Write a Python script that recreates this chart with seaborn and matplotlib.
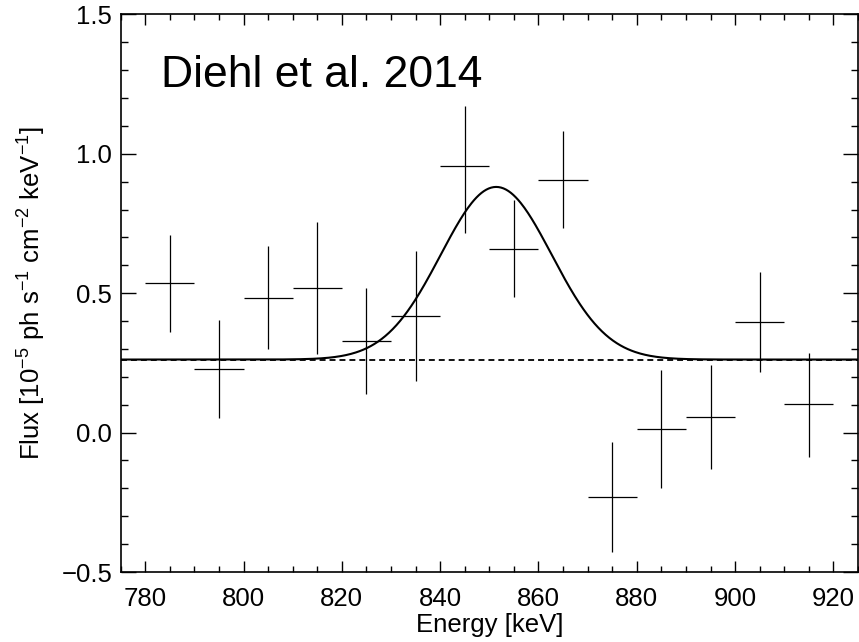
import numpy as np
import pandas as pd
import matplotlib
matplotlib.use("Agg")
import matplotlib.pyplot as plt
import seaborn as sns
from matplotlib.ticker import MultipleLocator

# ---- data ----
energy = [785, 795, 805, 815, 825, 835, 845, 855, 865, 875, 885, 895, 905, 915]
flux = [0.535, 0.229, 0.483, 0.518, 0.330, 0.419, 0.957, 0.660, 0.907,
        -0.232, 0.012, 0.057, 0.396, 0.101]
flux_hi = [0.708, 0.404, 0.668, 0.754, 0.518, 0.651, 1.171, 0.833, 1.082,
           -0.035, 0.223, 0.244, 0.576, 0.286]
flux_lo = [0.360, 0.054, 0.300, 0.283, 0.137, 0.185, 0.717, 0.485, 0.732,
           -0.429, -0.199, -0.130, 0.217, -0.087]
bin_half_width = 5.0

# fitted model: continuum + gaussian line
continuum = 0.262
line_amp = 0.619
line_center = 851.4
line_sigma = 11.3

x_ticks = [780, 800, 820, 840, 860, 880, 900, 920]
y_ticks = [-0.5, 0.0, 0.5, 1.0, 1.5]
label_text = "Diehl et al. 2014"

# ---- style ----
sns.set_theme(style="ticks")
plt.rcParams['font.family'] = ['Liberation Sans', 'DejaVu Sans']
plt.rcParams['mathtext.fontset'] = 'custom'
plt.rcParams['mathtext.rm'] = 'Liberation Sans'
plt.rcParams['mathtext.it'] = 'Liberation Sans:italic'
plt.rcParams['mathtext.bf'] = 'Liberation Sans:bold'
plt.rcParams['text.color'] = 'black'
plt.rcParams['axes.labelcolor'] = 'black'
plt.rcParams['xtick.color'] = 'black'
plt.rcParams['ytick.color'] = 'black'

fig = plt.figure(figsize=(8.59, 6.42), dpi=100)
ax = fig.add_axes([0.1405, 0.109, 0.8583, 0.8687])

df = pd.DataFrame({"energy": energy, "flux": flux, "hi": flux_hi, "lo": flux_lo})

xg = np.linspace(775, 925, 600)
model = continuum + line_amp * np.exp(-0.5 * ((xg - line_center) / line_sigma) ** 2)
mdf = pd.DataFrame({"E": xg, "model": model, "cont": continuum})

sns.lineplot(data=mdf, x="E", y="cont", color="black", lw=1.3,
             linestyle=(0, (3.3, 2.2)), ax=ax)
sns.lineplot(data=mdf, x="E", y="model", color="black", lw=1.5, ax=ax)

yerr = np.vstack([df["flux"] - df["lo"], df["hi"] - df["flux"]])
ax.errorbar(df["energy"], df["flux"], xerr=bin_half_width, yerr=yerr,
            fmt="none", ecolor="black", elinewidth=0.9, capsize=0)

ax.text(783.2, 1.24, label_text, fontsize=32, ha="left", va="baseline",
        color="black")

ax.set_xlim(775, 925)
ax.set_ylim(-0.5, 1.5)
ax.set_xticks(x_ticks)
ax.set_yticks(y_ticks)
ax.set_xticklabels([str(v) for v in x_ticks])
ax.set_yticklabels([f"{v:.1f}".replace("-", "\u2212") for v in y_ticks])
ax.xaxis.set_minor_locator(MultipleLocator(5))
ax.yaxis.set_minor_locator(MultipleLocator(0.1))
ax.tick_params(which="both", direction="in", top=True, right=True,
               color="black", width=1.0, labelsize=18.5, labelcolor="black")
ax.tick_params(axis="x", which="major", length=8, pad=11)
ax.tick_params(axis="x", which="minor", length=4)
ax.tick_params(axis="y", which="major", length=10.5, pad=6)
ax.tick_params(axis="y", which="minor", length=5)
for s in ax.spines.values():
    s.set_linewidth(1.2)
    s.set_color("black")

ax.set_xlabel("Energy [keV]", fontsize=18.5, labelpad=1, color="black")
ax.set_ylabel(r"Flux [10$^{-5}$ ph s$^{-1}$ cm$^{-2}$ keV$^{-1}$]",
              fontsize=18.5, labelpad=10, color="black")

fig.savefig("out.png", dpi=100)
